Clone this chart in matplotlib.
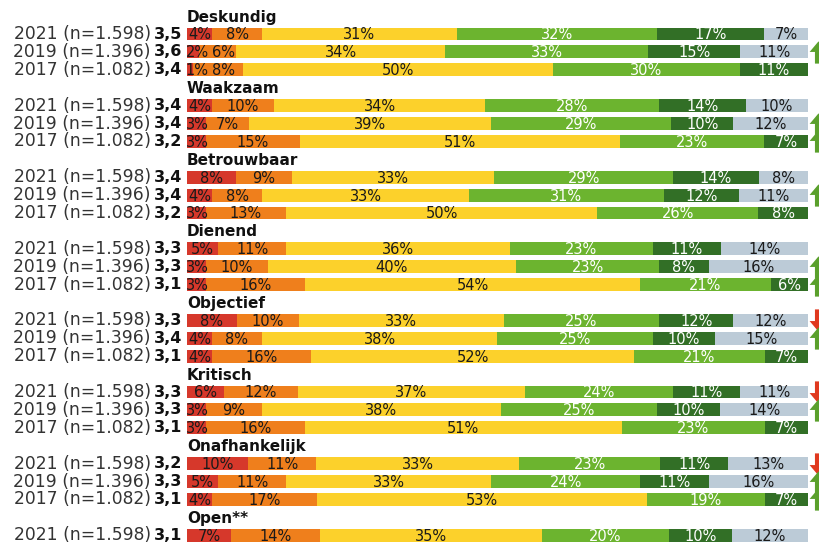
import numpy as np
import matplotlib
matplotlib.use('Agg')
import matplotlib.pyplot as plt
from matplotlib.path import Path

# categorieën en jaren
items = ['Deskundig', 'Waakzaam', 'Betrouwbaar', 'Dienend', 'Objectief',
         'Kritisch', 'Onafhankelijk', 'Open**']
jaren = ['2021 (n=1.598)', '2019 (n=1.396)', '2017 (n=1.082)']

# gemiddelde scores per item (2021, 2019, 2017)
scores = [['3,5', '3,6', '3,4'], ['3,4', '3,4', '3,2'], ['3,4', '3,4', '3,2'],
          ['3,3', '3,3', '3,1'], ['3,3', '3,4', '3,1'], ['3,3', '3,3', '3,1'],
          ['3,2', '3,3', '3,1'], ['3,1']]

# verdeling in % : zeer slecht, slecht, neutraal, goed, zeer goed, weet niet
deskundig = [[4, 8, 31, 32, 17, 7], [2, 6, 34, 33, 15, 11], [1, 8, 50, 30, 11, 0]]
waakzaam = [[4, 10, 34, 28, 14, 10], [3, 7, 39, 29, 10, 12], [3, 15, 51, 23, 7, 0]]
betrouwbaar = [[8, 9, 33, 29, 14, 8], [4, 8, 33, 31, 12, 11], [3, 13, 50, 26, 8, 0]]
dienend = [[5, 11, 36, 23, 11, 14], [3, 10, 40, 23, 8, 16], [3, 16, 54, 21, 6, 0]]
objectief = [[8, 10, 33, 25, 12, 12], [4, 8, 38, 25, 10, 15], [4, 16, 52, 21, 7, 0]]
kritisch = [[6, 12, 37, 24, 11, 11], [3, 9, 38, 25, 10, 14], [3, 16, 51, 23, 7, 0]]
onafhankelijk = [[10, 11, 33, 23, 11, 13], [5, 11, 33, 24, 11, 16], [4, 17, 53, 19, 7, 0]]
open_ = [[7, 14, 35, 20, 10, 12]]
data = [deskundig, waakzaam, betrouwbaar, dienend, objectief, kritisch, onafhankelijk, open_]

# significante verschillen: 1 = omhoog, -1 = omlaag, 0 = geen
pijlen = [[0, 1, 0], [0, 1, 1], [0, 1, 0], [0, 1, 1], [-1, 1, 0], [-1, 1, 0], [-1, 1, 1], [0]]

kleuren = ['#d6382b', '#ef7f1c', '#fcd12b', '#6cb42f', '#326f26', '#bccbd7']
tekstkleur = ['#1a1a1a', '#1a1a1a', '#1a1a1a', 'white', 'white', '#1a1a1a']

fig = plt.figure(figsize=(8.2, 5.49), dpi=100)
ax = fig.add_axes([187 / 820, 0, (808 - 187) / 820, 1])
ax.set_xlim(0, 100)
ax.set_ylim(29.77, -0.9)
ax.axis('off')

pijl_op = Path([(-0.32, -1), (0.32, -1), (0.32, 0.05), (0.8, 0.05), (0, 1),
                (-0.8, 0.05), (-0.32, 0.05), (-0.32, -1)])
pijl_neer = Path([(x, -y) for x, y in pijl_op.vertices])

for g, item in enumerate(items):
    titel_y = g * 4
    ax.text(0, titel_y + 0.05, item, fontsize=11, fontweight='bold', ha='left',
            va='center', color='#111111')
    for i, rij in enumerate(data[g]):
        y = titel_y + 1 + i
        rij = np.array(rij, dtype=float)
        breed = rij / rij.sum() * 100
        links = 0
        vorige_rand = -1.0   # rechterrand van het vorige label (grove schatting)
        for k in range(6):
            if rij[k] == 0:
                continue
            label = '{:d}%'.format(int(rij[k]))
            halve = (3.7 if rij[k] < 10 else 5.2) / 2
            midden = links + breed[k] / 2
            midden = max(midden, vorige_rand + 0.6 + halve, halve - 0.2)
            ax.text(midden, y + 0.05, label, ha='center', va='center',
                    fontsize=10.5, color=tekstkleur[k])
            vorige_rand = midden + halve
            ax.barh(y, breed[k], left=links, height=0.72, color=kleuren[k],
                    linewidth=0, zorder=0)
            links += breed[k]
        ypos = ax.transData.transform((0, y))[1] / fig.bbox.height
        fig.text(151 / 820, ypos, jaren[i], ha='right', va='center',
                 fontsize=12.3, color='#333333')
        fig.text(182 / 820, ypos, scores[g][i], ha='right', va='center',
                 fontsize=11.5, fontweight='bold', color='#111111')
        if pijlen[g][i] == 1:
            ax.plot(101.6, y, marker=pijl_op, markersize=16, color='#5aa02c',
                    clip_on=False, markeredgewidth=0)
        elif pijlen[g][i] == -1:
            ax.plot(101.6, y, marker=pijl_neer, markersize=16, color='#e0391f',
                    clip_on=False, markeredgewidth=0)

fig.savefig('out.png', dpi=100)
